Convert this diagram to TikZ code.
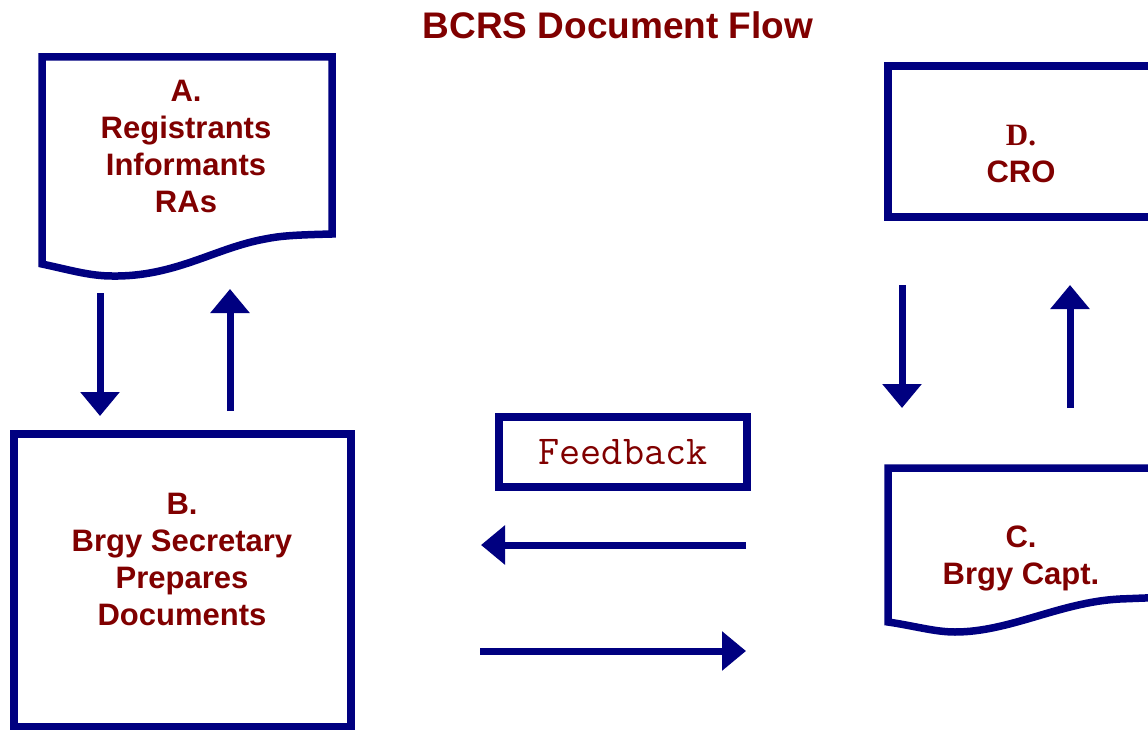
\documentclass[tikz,border=0pt]{standalone}
\usepackage{fontspec}
\setmainfont{Liberation Sans}
\newfontfamily\serifbold{Liberation Serif}
\usetikzlibrary{arrows.meta}
\definecolor{navy}{HTML}{000080}
\definecolor{maroon}{HTML}{800000}

\begin{document}
\begin{tikzpicture}[x=1pt,y=-1pt,
  lbl/.style={text=maroon,font=\fontsize{31}{37}\selectfont\bfseries,align=center},
  box/.style={draw=navy,line width=7.5pt},
  flow/.style={draw=navy,line width=7pt,-{Triangle[length=24pt,width=38pt]}}]
\clip (0,0) rectangle (1148,730);
\node[text=maroon,font=\fontsize{37}{44}\selectfont\bfseries] (T) at (618,25) {BCRS Document Flow};

\draw[box] (332,57) -- (42,57) -- (42,264) .. controls (70,270) and (90,276) .. (112,276)
  .. controls (175,277) and (215,248) .. (265,239) .. controls (280,236) and (292,235) .. (332,234) -- cycle;
\draw[box] (14,434) rectangle (351,727);
\draw[box] (888,66) rectangle (1170,217);
\draw[box] (1170,468) -- (888,468) -- (888,622) .. controls (915,626) and (935,632) .. (955,632)
  .. controls (1010,632) and (1060,602) .. (1120,599) -- (1170,597);

\node[lbl] (A) at (186,146) {A.\\Registrants\\Informants\\RAs};
\node[lbl] (B) at (182,559) {B.\\Brgy Secretary\\Prepares\\Documents};
\node[lbl] (D) at (1021,154) {{\serifbold D.}\\CRO};
\node[lbl] (C) at (1021,558) {C.\\Brgy Capt.};
\node[box,text=maroon,font=\ttfamily\fontsize{41}{41}\selectfont,minimum width=248,minimum height=70] (F) at (623,452) {Feedback};

\coordinate (a1) at (100,293); \coordinate (b1) at (100,416);
\coordinate (b2) at (230,411); \coordinate (a2) at (230,289);
\coordinate (d1) at (902,285); \coordinate (c1) at (902,408);
\coordinate (c2) at (1070,408); \coordinate (d2) at (1070,285);
\coordinate (r1) at (746,545); \coordinate (l1) at (481,545);
\coordinate (l2) at (480,651); \coordinate (r2) at (746,651);
\draw[flow] (a1) -- (b1);
\draw[flow] (b2) -- (a2);
\draw[flow] (d1) -- (c1);
\draw[flow] (c2) -- (d2);
\draw[flow] (r1) -- (l1);
\draw[flow] (l2) -- (r2);
\end{tikzpicture}
\end{document}
